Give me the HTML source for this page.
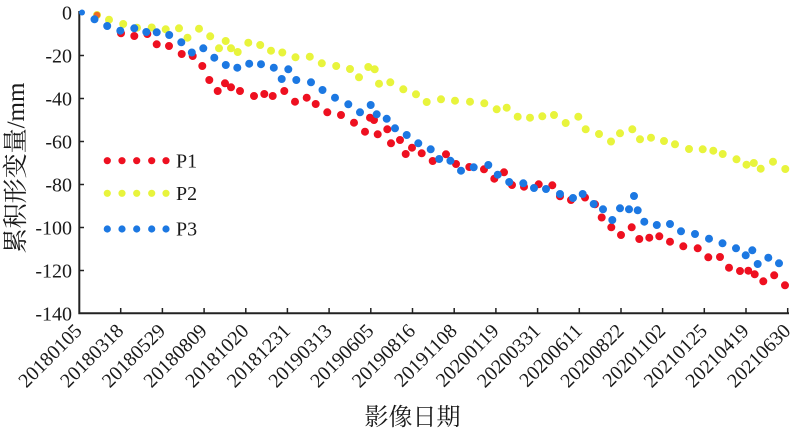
<!DOCTYPE html>
<html>
<head>
<meta charset="utf-8">
<style>
html,body{margin:0;padding:0;background:#fff}
svg{display:block}
</style>
</head>
<body>
<svg width="800" height="433" viewBox="0 0 800 433" xmlns="http://www.w3.org/2000/svg">
<rect width="800" height="433" fill="#fff"/>
<g font-family="'Liberation Serif', 'Times New Roman', serif" font-size="20" fill="#1a1a1a" text-anchor="end" style="font-family:'Liberation Serif','Times New Roman',serif">
<text x="72" y="19.5">0</text>
<text x="72" y="62.5">-20</text>
<text x="72" y="105.5">-40</text>
<text x="72" y="148.5">-60</text>
<text x="72" y="191.5">-80</text>
<text x="72" y="234.5">-100</text>
<text x="72" y="277.5">-120</text>
<text x="72" y="320.5">-140</text>
<text x="83" y="332" transform="rotate(-45 83 332)">20180105</text>
<text x="124.7" y="332" transform="rotate(-45 124.7 332)">20180318</text>
<text x="166.4" y="332" transform="rotate(-45 166.4 332)">20180529</text>
<text x="208.1" y="332" transform="rotate(-45 208.1 332)">20180809</text>
<text x="249.8" y="332" transform="rotate(-45 249.8 332)">20181020</text>
<text x="291.4" y="332" transform="rotate(-45 291.4 332)">20181231</text>
<text x="333.1" y="332" transform="rotate(-45 333.1 332)">20190313</text>
<text x="374.8" y="332" transform="rotate(-45 374.8 332)">20190605</text>
<text x="416.5" y="332" transform="rotate(-45 416.5 332)">20190816</text>
<text x="458.2" y="332" transform="rotate(-45 458.2 332)">20191108</text>
<text x="499.9" y="332" transform="rotate(-45 499.9 332)">20200119</text>
<text x="541.6" y="332" transform="rotate(-45 541.6 332)">20200331</text>
<text x="583.3" y="332" transform="rotate(-45 583.3 332)">20200611</text>
<text x="625" y="332" transform="rotate(-45 625 332)">20200822</text>
<text x="666.6" y="332" transform="rotate(-45 666.6 332)">20201102</text>
<text x="708.3" y="332" transform="rotate(-45 708.3 332)">20210125</text>
<text x="750" y="332" transform="rotate(-45 750 332)">20210419</text>
<text x="791.7" y="332" transform="rotate(-45 791.7 332)">20210630</text>
</g>
<path d="M79 12.5h5M79 55.5h5M79 98.5h5M79 141.5h5M79 184.5h5M79 227.5h5M79 270.5h5M120.7 313v-5M162.4 313v-5M204.1 313v-5M245.8 313v-5M287.4 313v-5M329.1 313v-5M370.8 313v-5M412.5 313v-5M454.2 313v-5M495.9 313v-5M537.6 313v-5M579.3 313v-5M621 313v-5M662.6 313v-5M704.3 313v-5M746 313v-5M787.7 313v-5" stroke="#222" stroke-width="1.5" fill="none"/>
<path d="M79.3 11V313.3H789" fill="none" stroke="#222" stroke-width="2"/>
<text x="412.5" y="425" text-anchor="middle" font-size="24" fill="#1a1a1a" style="font-family:'Liberation Serif','Noto Serif CJK SC',serif">影像日期</text>
<text x="0" y="0" text-anchor="middle" font-size="25" fill="#1a1a1a" transform="translate(24 168) rotate(-90)" style="font-family:'Liberation Serif','Noto Serif CJK SC',serif">累积形变量/mm</text>
<path fill="none" stroke="#e8f43c" stroke-width="8" stroke-linecap="round" d="M97 15h0M109 19.7h0M123.2 24h0M137 27.7h0M151.7 27.5h0M165.7 29.3h0M179 28.3h0M187.5 37.7h0M199 28.7h0M210.2 36.3h0M219 48.3h0M225.7 41h0M231 48.3h0M237.7 52h0M248.3 42.7h0M260.2 45h0M271 50.7h0M282.3 52.5h0M295.5 57.3h0M309.8 56.7h0M321.8 63.3h0M336.2 66h0M350 69h0M359 77.3h0M368.3 67h0M374.7 69.3h0M379 83.7h0M390.3 82.3h0M403.3 89.3h0M416 94.3h0M426.7 102h0M441 99.3h0M455 100.7h0M470 101.7h0M484.3 103.3h0M496.7 109.3h0M506.7 107.7h0M517.7 116.7h0M530 117.7h0M542.3 116.3h0M554 115h0M565.7 123h0M578.3 116.7h0M585.7 129.3h0M599 134h0M611 141.5h0M620 133.3h0M632.3 129.3h0M640 139.3h0M651 137.7h0M664 141h0M675 144.3h0M689 149h0M702.7 149.3h0M713.3 150.7h0M722.7 154h0M736.5 159.3h0M746.5 164.7h0M753.8 163h0M760.7 168.7h0M773 161.7h0M785.3 169h0"/>
<circle cx="97" cy="15" r="3.3" fill="#f06a20"/>
<path fill="none" stroke="#ee1020" stroke-width="8" stroke-linecap="round" d="M121 33.3h0M134.3 36h0M147.3 34h0M156.7 44.3h0M169 46h0M181.7 54h0M192.7 56h0M202.3 66h0M209.3 80h0M217.7 91h0M225 83.3h0M231 87.3h0M240 91h0M254 96h0M264.3 94h0M272.7 96h0M284.3 91h0M295 101.7h0M306.7 97.7h0M315.7 104h0M327.3 112.3h0M341 115h0M354 122.7h0M365 131.7h0M370 117.7h0M374 120h0M377.7 134.3h0M387.3 129.3h0M391 143.3h0M400 140h0M405.7 154h0M412 147.7h0M421.7 153.3h0M432.7 161h0M446 154.3h0M456 164h0M469.3 167h0M484 169.3h0M494.3 178.7h0M504 172.3h0M512 185h0M524 186.7h0M538.7 184.3h0M552.3 185.3h0M560 196.3h0M571 200h0M585 197.5h0M595 204.3h0M601.7 217.5h0M611.3 227.3h0M621 235h0M631.7 227.3h0M639.3 239h0M649.3 237.7h0M659.3 236.3h0M670 241.7h0M683.3 246.3h0M697.7 248.3h0M708.3 257.3h0M720 257h0M729 267.7h0M740 271h0M748.3 270.7h0M754.7 274.3h0M763.3 281.3h0M774.2 275.3h0M785 285.3h0"/>
<path fill="none" stroke="#1c78e2" stroke-width="8" stroke-linecap="round" d="M94.5 19.3h0M107.2 26h0M120.3 30.7h0M134.3 28.3h0M146.3 32h0M156.7 32.3h0M169.2 35h0M181.3 42.3h0M191.8 52.5h0M203.3 48.3h0M214.3 57.7h0M225.8 65h0M237.3 67.7h0M249.2 63.7h0M261 64.2h0M273.8 67.7h0M288.3 69.3h0M281.7 79h0M296.3 80h0M311 82.3h0M322.5 90h0M335 97.7h0M348.3 104.3h0M360 112.3h0M370.7 105h0M376.7 114.3h0M386.7 118.8h0M395 128.3h0M406.7 135h0M418.3 143.3h0M430.7 149.3h0M439.2 159h0M450.4 160.8h0M461 170.7h0M473.7 167.3h0M488.3 165h0M497.7 174.7h0M509.2 182h0M523.3 183.3h0M534 188h0M546 189h0M560 194h0M573 198h0M582.7 194h0M593.7 204h0M603 209.3h0M612.3 220h0M620 208.3h0M629 209.3h0M634 196h0M637.7 210.3h0M644.3 221.7h0M656.8 225h0M670 224h0M681 231.3h0M695 234h0M709 238.7h0M722.5 243.3h0M736 248.3h0M745.7 255.3h0M752.3 250.3h0M757.7 264h0M768.3 257.7h0M779 263.3h0"/>
<circle cx="82" cy="12.5" r="3" fill="#1c78e2"/>
<path fill="none" stroke="#ee1020" stroke-width="7.2" stroke-linecap="round" d="M107.3 160.7h0M122 160.7h0M136.7 160.7h0M151.7 160.7h0M166 160.7h0"/>
<path fill="none" stroke="#e8f43c" stroke-width="7.2" stroke-linecap="round" d="M107.3 193.3h0M122 193.3h0M136.7 193.3h0M151.7 193.3h0M166 193.3h0"/>
<path fill="none" stroke="#1c78e2" stroke-width="7.2" stroke-linecap="round" d="M107.3 229h0M122 229h0M136.7 229h0M151.7 229h0M166 229h0"/>
<g font-size="20" fill="#1a1a1a" style="font-family:'Liberation Serif','Times New Roman',serif">
<text x="176" y="167.5">P1</text>
<text x="176" y="200">P2</text>
<text x="176" y="235.7">P3</text>
</g>
</svg>
</body>
</html>
